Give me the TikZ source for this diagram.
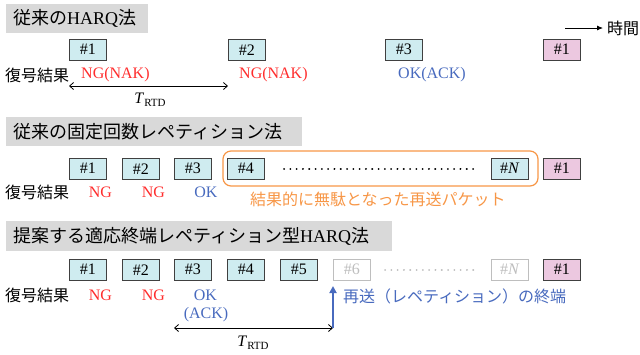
\documentclass[tikz,border=0pt]{standalone}
\usepackage{fontspec}
\setmainfont{Liberation Serif}
\newfontfamily\jp{Noto Sans CJK JP}
\usetikzlibrary{arrows.meta}
\definecolor{boxfill}{RGB}{207,236,240}
\definecolor{pinkfill}{RGB}{236,200,224}
\definecolor{ngred}{RGB}{255,45,45}
\definecolor{okblue}{RGB}{72,106,190}
\definecolor{orng}{RGB}{247,150,70}
\definecolor{titlegray}{RGB}{217,217,217}
\definecolor{fadegray}{RGB}{190,190,190}
\begin{document}
\begin{tikzpicture}[x=1pt,y=-1pt,
  every node/.style={inner sep=0pt,font=\fontsize{16}{18}\selectfont},
  pkt/.style={draw=black!75, fill=boxfill, line width=0.9pt, minimum width=37pt, minimum height=20.5pt, anchor=north west},
  pktpink/.style={pkt, fill=pinkfill},
  pktfade/.style={pkt, draw=fadegray, fill=white, text=fadegray},
  titlebar/.style={fill=titlegray},
  titletext/.style={anchor=west, font=\fontsize{18}{20}\selectfont},
  ng/.style={text=ngred},
  ok/.style={text=okblue},
  dotline/.style={line width=2pt, line cap=round, dash pattern=on 0.1pt off 6.2pt},
  rtd/.style={{Straight Barb[length=4pt,width=7pt]}-{Straight Barb[length=4pt,width=7pt]}, line width=0.8pt}
]
\useasboundingbox (0,0) rectangle (640,354);

% ---------- Section 1 ----------
\fill[titlegray] (6,4) rectangle (148,33);
\node[titletext] (t1) at (13,18.5) {{\jp 従来の}HARQ{\jp 法}};
\coordinate (ta) at (565,28);
\coordinate (tb) at (603,28);
\draw[-{Latex[length=6pt,width=5pt]}, line width=0.8pt] (ta) -- (tb);
\node[anchor=west] (time) at (607,28) {\jp 時間};

\node[pkt] (a1) at (69,39) {\#1};
\node[pkt] (a2) at (228,39) {\#2};
\node[pkt] (a3) at (385,39) {\#3};
\node[pktpink] (a4) at (543,39) {\#1};

\node[anchor=west] (r1) at (5,75) {\jp 復号結果};
\node[anchor=west, ng] (n1) at (81,75) {NG(NAK)};
\node[anchor=west, ng] (n2) at (239,75) {NG(NAK)};
\node[anchor=west, ok] (n3) at (398,75) {OK(ACK)};
\coordinate (d1) at (a1.west |- 0,86);
\coordinate (d2) at (a2.west |- 0,86);
\draw[rtd] (d1) -- (d2);
\node (rt1) at (150,100) {\textit{T}\raisebox{-0.35ex}{\fontsize{11}{12}\selectfont RTD}};

% ---------- Section 2 ----------
\fill[titlegray] (6,117) rectangle (302,146);
\node[titletext] (t2) at (13,131.5) {\jp 従来の固定回数レペティション法};

\draw[orng, line width=1.2pt, rounded corners=8pt] (223,151) rectangle (538,186);
\node[pkt] (b1) at (69,158) {\#1};
\node[pkt] (b2) at (122,158) {\#2};
\node[pkt] (b3) at (174,158) {\#3};
\node[pkt] (b4) at (227,158) {\#4};
\node[pkt] (bN) at (491,158) {\#\textit{N}};
\node[pktpink] (b5) at (543,158) {\#1};
\coordinate (bd1) at (284,169);
\coordinate (bd2) at (479,169);
\draw[dotline] (bd1) -- (bd2);

\node[anchor=west] (r2) at (5,192) {\jp 復号結果};
\node[ng] (m1) at (100.5,192) {NG};
\node[ng] (m2) at (153.5,192) {NG};
\node[ok] (m3) at (206,192) {OK};
\node[anchor=west, text=orng] (waste) at (250,199) {\jp 結果的に無駄となった再送パケット};

% ---------- Section 3 ----------
\fill[titlegray] (6,221) rectangle (392,251);
\node[titletext] (t3) at (13,236) {{\jp 提案する適応終端レペティション型}HARQ{\jp 法}};

\node[pkt] (c1) at (69,259) {\#1};
\node[pkt] (c2) at (122,259) {\#2};
\node[pkt] (c3) at (174,259) {\#3};
\node[pkt] (c4) at (227,259) {\#4};
\node[pkt] (c5) at (280,259) {\#5};
\node[pktfade] (c6) at (333,259) {\#6};
\node[pktfade] (cN) at (491,259) {\#\textit{N}};
\node[pktpink] (c7) at (543,259) {\#1};
\coordinate (cd1) at (385,270);
\coordinate (cd2) at (479,270);
\draw[dotline, fadegray] (cd1) -- (cd2);

\node[anchor=west] (r3) at (5,295) {\jp 復号結果};
\node[ng] (k1) at (100.5,295) {NG};
\node[ng] (k2) at (153.5,295) {NG};
\node[ok] (k3) at (205.5,295) {OK};
\node[ok] (k4) at (206,315) {(ACK)};

\coordinate (e1) at (c3.west |- 0,328);
\coordinate (e2) at (c6.west |- 0,328);
\draw[rtd] (e1) -- (e2);
\node (rt2) at (253,343) {\textit{T}\raisebox{-0.35ex}{\fontsize{11}{12}\selectfont RTD}};

\coordinate (up) at (c6.west |- 0,286);
\draw[okblue, line width=2.4pt, -{Triangle[length=7pt,width=7pt]}] (e2) -- (up);
\node[anchor=west, ok] (term) at (343,296) {\jp 再送（レペティション）の終端};
\end{tikzpicture}
\end{document}
